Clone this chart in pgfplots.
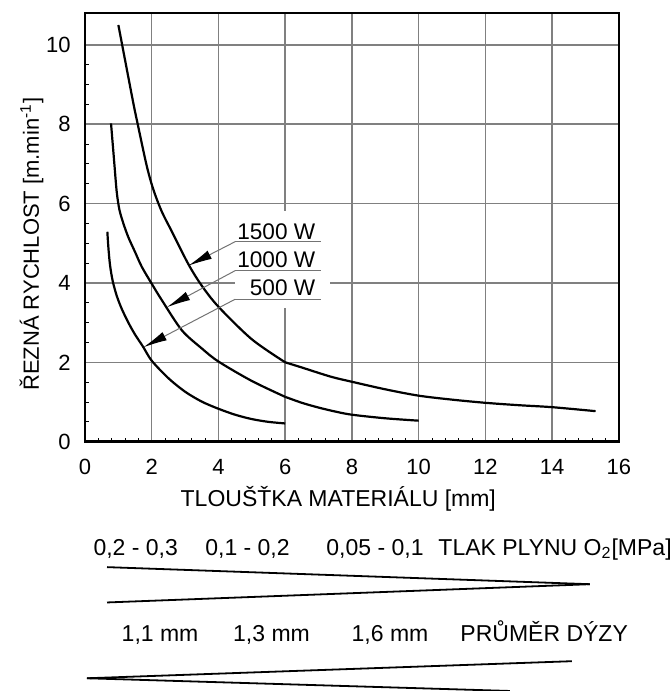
\documentclass[border=0pt]{standalone}
\usepackage{fontspec}
\setmainfont{Liberation Sans}
\usepackage{pgfplots}
\pgfplotsset{compat=1.18}
\usetikzlibrary{arrows.meta}

\pgfplotstableread{
x y
1.00 10.5
1.43 8.61
1.58 8.0
1.85 6.95
2.05 6.35
2.3 5.8
2.6 5.3
3.1 4.47
3.5 3.93
4.0 3.40
5.0 2.58
6.0 2.0
}\tB
\pgfplotstableread{
x y
6.0 2.0
6.46 1.88
7.36 1.64
8.0 1.51
9.0 1.32
10.0 1.16
11.0 1.06
12.0 0.98
13.0 0.92
14.0 0.87
15.3 0.77
}\tC
\pgfplotstableread{
x y
0.78 8.02
0.88 7.0
0.95 6.3
1.03 5.85
1.15 5.5
1.3 5.15
1.5 4.78
1.7 4.41
2.0 3.98
2.3 3.57
2.9 2.81
3.5 2.35
4.0 2.02
5.0 1.53
6.0 1.13
}\mB
\pgfplotstableread{
x y
6.0 1.13
6.5 0.98
7.0 0.86
7.5 0.76
8.0 0.68
9.0 0.59
10.0 0.53
}\mC
\pgfplotstableread{
x y
0.67 5.29
0.70 4.9
0.75 4.45
0.83 4.05
0.95 3.68
1.1 3.35
1.3 3.0
1.5 2.7
1.75 2.38
2.0 2.04
2.5 1.6
3.0 1.26
3.5 1.01
4.0 0.83
4.5 0.68
5.0 0.57
5.5 0.5
6.0 0.46
}\lA

\begin{document}
\begin{tikzpicture}
\begin{axis}[
  scale only axis,
  width=267pt, height=214.35pt,
  xmin=0, xmax=16, ymin=0, ymax=10.8,
  xtick={0,2,...,16}, ytick={0,2,...,10},
  minor x tick num=4, minor y tick num=3,
  tick pos=left, tick align=inside,
  major tick length=0pt, minor tick length=1.8pt,
  minor tick style={black, line width=0.5pt},
  grid=major,
  major grid style={black!50, line width=0.75pt},
  axis line style={black, line width=1.3pt},
  clip=false,
  /pgf/number format/assume math mode=true,
  ticklabel style={font=\fontsize{11}{13}\selectfont, inner sep=0pt},
  xticklabel shift=8.5pt, yticklabel shift=7pt,
]
% white area behind the power labels
\fill[white] (axis cs:4.5,3.37) rectangle (axis cs:7.35,5.82);

\addplot[black, line width=1.1pt, smooth, no markers] table {\tB};
\addplot[black, line width=1.1pt, smooth, no markers] table {\tC};
\addplot[black, line width=1.1pt, smooth, no markers] table {\mB};
\addplot[black, line width=1.1pt, smooth, no markers] table {\mC};
\addplot[black, line width=1.1pt, smooth, no markers] table {\lA};

% labels with leaders
\draw[black!55, line width=0.6pt] (axis cs:4.5,5.04) -- (axis cs:7.06,5.04);
\draw[black!55, line width=0.6pt] (axis cs:4.5,4.31) -- (axis cs:7.06,4.31);
\draw[black!55, line width=0.6pt] (axis cs:4.5,3.59) -- (axis cs:7.06,3.59);
\draw[black!55, line width=0.5pt, -{Latex[length=12pt,width=4.6pt,color=black]}] (axis cs:4.5,5.04) -- (axis cs:3.095,4.434);
\draw[black!55, line width=0.5pt, -{Latex[length=12pt,width=4.6pt,color=black]}] (axis cs:4.5,4.31) -- (axis cs:2.448,3.386);
\draw[black!55, line width=0.5pt, -{Latex[length=12pt,width=4.6pt,color=black]}] (axis cs:4.5,3.59) -- (axis cs:1.747,2.378);
\node[anchor=base east, inner sep=0pt, font=\fontsize{11.3}{13}\selectfont] at (axis cs:6.91,5.09) {1500 W};
\node[anchor=base east, inner sep=0pt, font=\fontsize{11.3}{13}\selectfont] at (axis cs:6.91,4.38) {1000 W};
\node[anchor=base east, inner sep=0pt, font=\fontsize{11.3}{13}\selectfont] at (axis cs:6.91,3.69) {500 W};

% axis labels
\node[anchor=base, inner sep=0pt, font=\fontsize{11.5}{13}\selectfont] at (axis cs:7.59,-1.62) {TLOUŠŤKA MATERIÁLU [mm]};
\node[anchor=base, rotate=90, inner sep=0pt, font=\fontsize{11}{13}\selectfont] at (axis cs:-1.381,4.975) {ŘEZNÁ RYCHLOST [m.min\textsuperscript{-1}]};

% pressure row
\node[anchor=base, inner sep=0pt, font=\fontsize{11.5}{13}\selectfont] at (axis cs:1.52,-2.86) {0,2 - 0,3};
\node[anchor=base, inner sep=0pt, font=\fontsize{11.5}{13}\selectfont] at (axis cs:4.87,-2.86) {0,1 - 0,2};
\node[anchor=base, inner sep=0pt, font=\fontsize{11.5}{13}\selectfont] at (axis cs:8.69,-2.86) {0,05 - 0,1};
\node[anchor=base west, inner sep=0pt, font=\fontsize{11.5}{13}\selectfont] at (axis cs:10.58,-2.86) {TLAK PLYNU O\textsubscript{2}[MPa]};
\draw[black, line width=0.9pt] (axis cs:0.66,-3.16) -- (axis cs:15.13,-3.59);
\draw[black, line width=0.9pt] (axis cs:0.66,-4.05) -- (axis cs:15.13,-3.59);

% nozzle row
\node[anchor=base, inner sep=0pt, font=\fontsize{11.5}{13}\selectfont] at (axis cs:2.25,-5.03) {1,1 mm};
\node[anchor=base, inner sep=0pt, font=\fontsize{11.5}{13}\selectfont] at (axis cs:5.59,-5.03) {1,3 mm};
\node[anchor=base, inner sep=0pt, font=\fontsize{11.5}{13}\selectfont] at (axis cs:9.14,-5.03) {1,6 mm};
\node[anchor=base west, inner sep=0pt, font=\fontsize{11.5}{13}\selectfont] at (axis cs:11.24,-5.03) {PRŮMĚR DÝZY};
\draw[black, line width=0.9pt] (axis cs:0.06,-5.96) -- (axis cs:14.59,-5.53);
\draw[black, line width=0.9pt] (axis cs:0.06,-5.96) -- (axis cs:12.73,-6.28);

\coordinate (bbtl) at (axis cs:-2.547,11.129);
\coordinate (bbbr) at (axis cs:17.558,-6.281);
\end{axis}
\pgfresetboundingbox
\useasboundingbox (bbtl) rectangle (bbbr);
\end{tikzpicture}
\end{document}
